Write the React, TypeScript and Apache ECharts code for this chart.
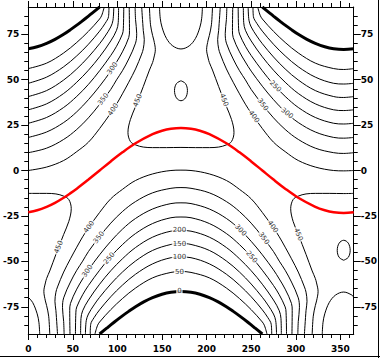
import React, { useEffect, useRef } from 'react';
import * as echarts from 'echarts';

// ---- axis ticks / labels ----
const xMajor = [0, 50, 100, 150, 200, 250, 300, 350];
const xMinor = [10, 20, 30, 40, 60, 70, 80, 90, 110, 120, 130, 140, 160, 170, 180, 190, 210, 220, 230, 240, 260, 270, 280, 290, 310, 320, 330, 340, 360];
const yMajor = [-75, -50, -25, 0, 25, 50, 75];
const yMinor = [-85, -80, -70, -65, -60, -55, -45, -40, -35, -30, -20, -15, -10, -5, 5, 10, 15, 20, 30, 35, 40, 45, 55, 60, 65, 70, 80, 85];

// ---- contour lines (day of year, latitude) ----
// Northern hemisphere, left (Jan -> spring)
const nhL0 = [[0,67.0],[10,68.1],[20.6,70],[30,72.2],[39.7,75],[47,77.4],[54.4,80],[60,82.1],[67.5,85],[72,86.8],[80,90]];
const nhL50 = [[0,56.1],[20.6,59.1],[39.7,64.7],[54.4,70.5],[67.5,76.6],[80,83.4],[82.5,85.5],[85.2,90]];
const nhL100 = [[0,48.0],[20.6,51.4],[39.7,57.1],[54.4,63.1],[67.5,69.5],[80,76.7],[86.2,81.0],[90.0,84.7],[90.5,90]];
const nhL150 = [[0,40.7],[20.6,44.0],[39.7,49.8],[54.4,55.9],[67.5,62.5],[80,69.8],[86.2,74.0],[92.5,79.0],[95.0,82.7],[95.9,90]];
const nhL200 = [[0,33.4],[20.6,36.7],[39.7,42.4],[54.4,48.6],[67.5,55.2],[80,62.6],[92.5,71.3],[99.0,77.2],[100.9,81.5],[101.3,90]];
const nhL250 = [[0,26.0],[20.6,29.2],[39.7,34.7],[54.4,40.8],[67.5,47.4],[80,54.9],[92.5,63.3],[99.0,68.4],[105.6,75.1],[106.6,78],[107.1,90]];
const nhL300 = [[0,18.2],[20.6,21.2],[39.7,26.4],[54.4,32.3],[67.5,39.0],[80,46.4],[92.5,54.7],[99.0,59.7],[105.6,65.3],[112.7,73.2],[113.5,77],[113.2,90]];
const nhL350 = [[0,9.8],[20.6,12.3],[39.7,17.1],[54.4,22.6],[67.5,29.0],[80,36.4],[92.5,44.6],[99.0,49.9],[105.6,54.9],[112.7,61.4],[120.3,70.1],[121.6,75.5],[120.3,83.1],[119.8,90]];
const nhL400 = [[0,0.0],[20.6,1.9],[39.7,5.5],[54.4,10.4],[67.5,15.6],[80,23.1],[92.5,31.6],[99.0,36.5],[105.6,42.2],[112.7,48.6],[120.3,55.9],[127.2,64.1],[129.0,67.0],[130.1,72],[129.0,77.0],[127.2,90]];

// Northern hemisphere, right (autumn -> Dec)
const nhR0 = [[365,67.0],[353.75,66.6],[342.5,67.0],[332.5,68.1],[321.9,70],[312.5,72.2],[302.8,75],[295.5,77.4],[288.1,80],[282.5,82.1],[275,85],[270.5,86.8],[262.5,90]];
const nhR50 = [[365,56.1],[353.75,55.6],[342.5,56.1],[321.9,59.1],[302.8,64.7],[288.1,70.5],[275,76.6],[262.5,83.4],[260,85.5],[257.3,90]];
const nhR100 = [[365,48.0],[353.75,47.6],[342.5,48.0],[321.9,51.4],[302.8,57.1],[288.1,63.1],[275,69.5],[262.5,76.7],[256.3,81.0],[252.5,84.7],[252.0,90]];
const nhR150 = [[365,40.7],[353.75,40.2],[342.5,40.7],[321.9,44.0],[302.8,49.8],[288.1,55.9],[275,62.5],[262.5,69.8],[256.3,74.0],[250,79.0],[247.5,82.7],[246.6,90]];
const nhR200 = [[365,33.4],[353.75,33.0],[342.5,33.4],[321.9,36.7],[302.8,42.4],[288.1,48.6],[275,55.2],[262.5,62.6],[250,71.3],[243.5,77.2],[241.6,81.5],[241.2,90]];
const nhR250 = [[365,26.0],[353.75,25.6],[342.5,26.0],[321.9,29.2],[302.8,34.7],[288.1,40.8],[275,47.4],[262.5,54.9],[250,63.3],[243.5,68.4],[236.9,75.1],[235.9,78],[235.4,90]];
const nhR300 = [[365,18.2],[353.75,17.8],[342.5,18.2],[321.9,21.2],[302.8,26.4],[288.1,32.3],[275,39.0],[262.5,46.4],[250,54.7],[243.5,59.7],[236.9,65.3],[229.8,73.2],[229.0,77],[229.3,90]];
const nhR350 = [[365,9.8],[353.75,9.4],[342.5,9.8],[321.9,12.3],[302.8,17.1],[288.1,22.6],[275,29.0],[262.5,36.4],[250,44.6],[243.5,49.9],[236.9,54.9],[229.8,61.4],[222.2,70.1],[220.9,75.5],[222.2,83.1],[222.7,90]];
const nhR400 = [[365,0.0],[353.75,-0.2],[342.5,0.0],[321.9,1.9],[302.8,5.5],[288.1,10.4],[275,15.6],[262.5,23.1],[250,31.6],[243.5,36.5],[236.9,42.2],[229.8,48.6],[222.2,55.9],[215.3,64.1],[213.5,67.0],[212.4,72],[213.5,77.0],[215.3,90]];

// Southern hemisphere arches
const shA0 = [[80,-90],[88,-86.8],[92.5,-85],[100,-82.1],[105.6,-80],[113,-77.4],[120.3,-75],[130,-72.2],[139.4,-70],[150,-68.1],[160,-67.0],[171.25,-66.6],[182.5,-67.0],[192.5,-68.1],[203.1,-70],[212.5,-72.2],[222.2,-75],[229.5,-77.4],[236.9,-80],[242.5,-82.1],[250,-85],[254.5,-86.8],[262.5,-90]];
const shA50 = [[74.8,-90],[77.5,-85.5],[80,-83.4],[92.5,-76.6],[105.6,-70.5],[120.3,-64.7],[139.4,-59.1],[160,-56.1],[171.25,-55.6],[182.5,-56.1],[203.1,-59.1],[222.2,-64.7],[236.9,-70.5],[250,-76.6],[262.5,-83.4],[265,-85.5],[267.7,-90]];
const shA100 = [[69.5,-90],[70,-84.7],[73.8,-81.0],[80,-76.7],[92.5,-69.5],[105.6,-63.1],[120.3,-57.1],[139.4,-51.4],[160,-48.0],[171.25,-47.6],[182.5,-48.0],[203.1,-51.4],[222.2,-57.1],[236.9,-63.1],[250,-69.5],[262.5,-76.7],[268.7,-81.0],[272.5,-84.7],[273,-90]];
const shA150 = [[64.1,-90],[65,-82.7],[67.5,-79.0],[73.8,-74.0],[80,-69.8],[92.5,-62.5],[105.6,-55.9],[120.3,-49.8],[139.4,-44.0],[160,-40.7],[171.25,-40.2],[182.5,-40.7],[203.1,-44.0],[222.2,-49.8],[236.9,-55.9],[250,-62.5],[262.5,-69.8],[268.7,-74.0],[275,-79.0],[277.5,-82.7],[278.4,-90]];
const shA200 = [[58.7,-90],[59.1,-81.5],[61,-77.2],[67.5,-71.3],[80,-62.6],[92.5,-55.2],[105.6,-48.6],[120.3,-42.4],[139.4,-36.7],[160,-33.4],[171.25,-33.0],[182.5,-33.4],[203.1,-36.7],[222.2,-42.4],[236.9,-48.6],[250,-55.2],[262.5,-62.6],[275,-71.3],[281.5,-77.2],[283.4,-81.5],[283.8,-90]];
const shA250 = [[52.9,-90],[53.4,-78],[54.4,-75.1],[61,-68.4],[67.5,-63.3],[80,-54.9],[92.5,-47.4],[105.6,-40.8],[120.3,-34.7],[139.4,-29.2],[160,-26.0],[171.25,-25.6],[182.5,-26.0],[203.1,-29.2],[222.2,-34.7],[236.9,-40.8],[250,-47.4],[262.5,-54.9],[275,-63.3],[281.5,-68.4],[288.1,-75.1],[289.1,-78],[289.6,-90]];
const shA300 = [[46.8,-90],[46.5,-77],[47.3,-73.2],[54.4,-65.3],[61,-59.7],[67.5,-54.7],[80,-46.4],[92.5,-39.0],[105.6,-32.3],[120.3,-26.4],[139.4,-21.2],[160,-18.2],[171.25,-17.8],[182.5,-18.2],[203.1,-21.2],[222.2,-26.4],[236.9,-32.3],[250,-39.0],[262.5,-46.4],[275,-54.7],[281.5,-59.7],[288.1,-65.3],[295.2,-73.2],[296,-77],[295.7,-90]];
const shA350 = [[40.2,-90],[39.7,-83.1],[38.4,-75.5],[39.7,-70.1],[47.3,-61.4],[54.4,-54.9],[61,-49.9],[67.5,-44.6],[80,-36.4],[92.5,-29.0],[105.6,-22.6],[120.3,-17.1],[139.4,-12.3],[160,-9.8],[171.25,-9.4],[182.5,-9.8],[203.1,-12.3],[222.2,-17.1],[236.9,-22.6],[250,-29.0],[262.5,-36.4],[275,-44.6],[281.5,-49.9],[288.1,-54.9],[295.2,-61.4],[302.8,-70.1],[304.1,-75.5],[302.8,-83.1],[302.3,-90]];
const shA400 = [[32.8,-90],[31,-77.0],[29.9,-72],[31,-67.0],[32.8,-64.1],[39.7,-55.9],[47.3,-48.6],[54.4,-42.2],[61,-36.5],[67.5,-31.6],[80,-23.1],[92.5,-15.6],[105.6,-10.4],[120.3,-5.5],[139.4,-1.9],[160,0.0],[171.25,0.2],[182.5,0.0],[203.1,-1.9],[222.2,-5.5],[236.9,-10.4],[250,-15.6],[262.5,-23.1],[275,-31.6],[281.5,-36.5],[288.1,-42.2],[295.2,-48.6],[302.8,-55.9],[309.7,-64.1],[311.5,-67.0],[312.6,-72],[311.5,-77.0],[309.7,-90]];

// 450 and 500 contours
const nh450 = [[135.9,90],[137.1,80.2],[139.4,74.4],[140.8,71.8],[142.5,66.5],[140.8,61.9],[139.4,59.4],[135.9,55.3],[129.0,46.2],[120.3,35.2],[114.5,28],[111.8,21],[114.5,16],[120.3,14.1],[129.0,12.9],[139.4,12.6],[155,12.6],[171.25,12.7],[187.5,12.6],[203.1,12.6],[213.5,12.9],[222.2,14.1],[228,16],[230.7,21],[228,28],[222.2,35.2],[213.5,46.2],[206.6,55.3],[203.1,59.4],[201.7,61.9],[200,66.5],[201.7,71.8],[203.1,74.4],[205.4,80.2],[206.6,90]];
const nh500U = [[147.2,90],[148,83.8],[150,78.9],[155,72.7],[162,68.6],[171.25,66.9],[180.5,68.6],[187.5,72.7],[192.5,78.9],[194.5,83.8],[195.3,90]];
const nh500Oval = [[171.25,49.4],[176.4,47.8],[178.5,44],[176.4,40],[171.25,38.4],[166.1,40],[164,44],[166.1,47.8],[171.25,49.4]];
const sh450L = [[0,-12.6],[5,-12.6],[20.6,-12.6],[31,-12.9],[39.7,-14.1],[45.5,-16],[48.2,-21],[45.5,-28],[39.7,-35.2],[31,-46.2],[24.1,-55.3],[20.6,-59.4],[19.2,-61.9],[17.5,-66.5],[19.2,-71.8],[20.6,-74.4],[22.9,-80.2],[24.1,-90]];
const sh450R = [[318.4,-90],[319.6,-80.2],[321.9,-74.4],[323.3,-71.8],[325,-66.5],[323.3,-61.9],[321.9,-59.4],[318.4,-55.3],[311.5,-46.2],[302.8,-35.2],[297,-28],[294.3,-21],[297,-16],[302.8,-14.1],[311.5,-12.9],[321.9,-12.6],[337.5,-12.6],[353.75,-12.7],[365,-12.6]];
const sh500L = [[0,-69.8],[5,-72.7],[10,-78.9],[12,-83.8],[12.8,-90]];
const sh500R = [[329.7,-90],[330.5,-83.8],[332.5,-78.9],[337.5,-72.7],[344.5,-68.6],[353.75,-66.9],[363,-68.6],[365,-69.8]];
const sh500Oval = [[353.75,-49.4],[358.9,-47.8],[361,-44],[358.9,-40],[353.75,-38.4],[348.6,-40],[346.5,-44],[348.6,-47.8],[353.75,-49.4]];

// solar declination (red)
const declination = [[0,-23.0],[10,-21.9],[20.6,-20],[30,-17.8],[39.7,-15],[47,-12.6],[54.4,-10],[60,-7.9],[67.5,-5],[80,0],[92.5,5],[105.6,10],[120.3,15],[139.4,20],[150,21.9],[160,23.0],[171.25,23.44],[182.5,23.0],[192.5,21.9],[203.1,20],[222.2,15],[236.9,10],[250,5],[262.5,0],[275,-5],[288.1,-10],[302.8,-15],[321.9,-20],[332.5,-21.9],[342.5,-23.0],[353.75,-23.44],[365,-23.0]];

// contour labels: day, lat, text
const labelPoints: [number, number, string][] = [
  [94.5,56.2,'300'],[84.2,39.2,'350'],[95.4,33.6,'400'],[122.8,38.5,'450'],
  [219.4,38.8,'450'],[263,36.2,'350'],[253,29.6,'400'],[290.1,31.5,'300'],[277.1,46.3,'250'],
  [34.2,-42.2,'450'],[68.2,-31.1,'400'],[79.3,-36.9,'350'],[66.5,-55.4,'300'],[90.9,-48.4,'250'],
  [238.1,-32.9,'300'],[264.1,-37.4,'350'],[250.4,-47.6,'250'],[274.1,-31.0,'400'],[302.8,-35.2,'450'],
  [169.5,-33.0,'200'],[169.5,-40.2,'150'],[169.5,-47.6,'100'],[169.5,-55.6,'50'],[169.5,-66.6,'0'],
];
const labelAngles = [57,53,57,69, -69,-53,-54,-39,-45, 69,54,53,57,50, -46,-53,-50,-54,-69, 0,0,0,0,0];

const thinLines = [
  nhL50, nhL100, nhL150, nhL200, nhL250, nhL300, nhL350, nhL400,
  nhR50, nhR100, nhR150, nhR200, nhR250, nhR300, nhR350, nhR400,
  shA50, shA100, shA150, shA200, shA250, shA300, shA350, shA400,
  nh450, nh500U, nh500Oval, sh450L, sh450R, sh500L, sh500R, sh500Oval,
];
const boldLines = [nhL0, nhR0, shA0];

const FONT = 'DejaVu Sans';

export default function App() {
  const ref = useRef<HTMLDivElement>(null);
  useEffect(() => {
    if (!ref.current) return;
    const chart = echarts.init(ref.current, null, { renderer: 'svg' });
    const axisText = { fontFamily: FONT, fontSize: 9, fontWeight: 'bold' as const, color: '#000' };
    const mkX = (position: 'top' | 'bottom', major: boolean, labels: boolean) => ({
      type: 'value', min: 0, max: 365, position,
      axisLine: { show: major, onZero: false, lineStyle: { color: '#000', width: 1 } },
      axisTick: { show: true, inside: false, length: major ? 6 : 4, customValues: major ? xMajor : xMinor, lineStyle: { color: '#000', width: 1 } },
      axisLabel: { show: labels, customValues: xMajor, margin: 10, ...axisText },
      splitLine: { show: false },
    });
    const mkY = (position: 'left' | 'right', major: boolean, labels: boolean) => ({
      type: 'value', min: -90, max: 90, position,
      axisLine: { show: major, onZero: false, lineStyle: { color: '#000', width: 1 } },
      axisTick: { show: true, inside: false, length: major ? 7 : 4, customValues: major ? yMajor : yMinor, lineStyle: { color: '#000', width: 1 } },
      axisLabel: { show: labels, customValues: yMajor, margin: position === 'left' ? 9 : 7, ...axisText },
      splitLine: { show: false },
    });
    const lineSeries = (data: number[][], width: number, color: string, z: number) => ({
      type: 'line', data, xAxisIndex: 0, yAxisIndex: 0, showSymbol: false, symbol: 'none',
      smooth: 0.35, clip: true, silent: true, z,
      lineStyle: { color, width }, emphasis: { disabled: true },
    });
    const series: any[] = [
      ...thinLines.map((d) => lineSeries(d, 1, '#000', 2)),
      ...boldLines.map((d) => lineSeries(d, 3, '#000', 3)),
      lineSeries(declination, 2.5, '#ff0000', 4),
      {
        type: 'scatter', xAxisIndex: 0, yAxisIndex: 0, silent: true, z: 6,
        symbolSize: 1, itemStyle: { color: 'rgba(0,0,0,0)' },
        data: labelPoints.map((p, i) => ({
          value: [p[0], p[1]],
          label: { show: true, formatter: p[2], rotate: labelAngles[i] },
        })),
        label: {
          show: true, position: 'inside', fontFamily: FONT, fontSize: 7, color: '#000',
          backgroundColor: '#fff', padding: [0, 1],
        },
      },
    ];
    chart.setOption({
      animation: false,
      backgroundColor: '#fff',
      grid: { left: 26, right: 26, top: 7, bottom: 24, containLabel: false },
      xAxis: [mkX('bottom', true, true), mkX('bottom', false, false), mkX('top', true, false), mkX('top', false, false)],
      yAxis: [mkY('left', true, true), mkY('left', false, false), mkY('right', true, true), mkY('right', false, false)],
      series,
      graphic: [
        { type: 'line', shape: { x1: 378.5, y1: 0, x2: 378.5, y2: 358 }, style: { stroke: '#000', lineWidth: 1 }, silent: true },
        { type: 'line', shape: { x1: 0, y1: 356.5, x2: 380, y2: 356.5 }, style: { stroke: '#000', lineWidth: 1 }, silent: true },
      ],
    });
    return () => chart.dispose();
  }, []);
  return <div ref={ref} style={{ position: 'absolute', left: 0, top: 0, width: 380, height: 358, background: '#fff' }} />;
}
